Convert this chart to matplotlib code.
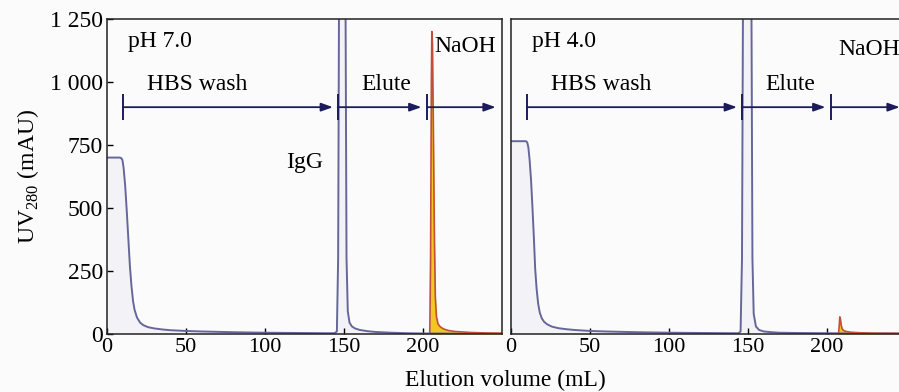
import matplotlib
matplotlib.use("Agg")
import matplotlib.pyplot as plt
from matplotlib.ticker import FuncFormatter

plt.rcParams["font.family"] = ["Liberation Serif", "DejaVu Serif"]
plt.rcParams["mathtext.fontset"] = "custom"
plt.rcParams["mathtext.rm"] = "Liberation Serif"

# pH 7.0 run: UV trace (wash + IgG) and NaOH strip peak
ph7_x = [0, 8, 9, 9.8, 10.5, 11.5, 12.5, 13.5, 14.5, 15.5, 16.5, 17.5, 19, 21, 23, 26, 30, 35, 40,
         50, 60, 80, 100, 120, 140, 144, 145.5, 146.3, 147, 150.8, 151.6, 152.4, 153.5, 155, 157,
         160, 165, 170, 180, 190, 200, 205, 210, 230, 250]
ph7_y = [700, 700, 698, 690, 660, 590, 490, 380, 270, 190, 130, 95, 65, 45, 35, 27, 22, 18, 15,
         12, 10, 7, 5, 4, 3, 3, 10, 300, 1600, 1600, 300, 90, 45, 30, 22,
         16, 11, 8, 5, 3, 2, 2, 2, 1, 1]
ph7_naoh_x = [204.3, 204.8, 205.3, 205.6, 206.0, 206.6, 207.2, 207.8, 208.5, 209.5, 211, 213, 216,
              220, 230, 240, 250]
ph7_naoh_y = [0, 300, 1000, 1200, 1150, 800, 400, 150, 70, 40, 28, 20, 14, 10, 6, 4, 3]

# pH 4.0 run
ph4_x = [0, 9.5, 10.3, 11, 11.8, 12.7, 13.6, 14.5, 15.3, 16.2, 17.2, 18.2, 19.5, 21, 23, 26, 30, 35,
         40, 50, 60, 80, 100, 120, 140, 144, 145.3, 146.2, 147, 152, 152.8, 153.6, 155, 157, 160,
         165, 170, 180, 200, 220, 250]
ph4_y = [765, 765, 760, 740, 690, 610, 500, 380, 260, 180, 120, 85, 62, 48, 38, 29, 23, 19,
         16, 12, 10, 7, 5, 4, 3, 3, 10, 300, 1600, 1600, 300, 80, 30, 16, 10,
         7, 5, 4, 3, 2, 2]
ph4_naoh_x = [207.3, 207.7, 208.1, 208.5, 209, 209.6, 210.5, 212, 215, 220, 230, 250]
ph4_naoh_y = [0, 30, 68, 60, 35, 20, 14, 10, 7, 5, 3, 2]

x_ticks = [0, 50, 100, 150, 200]
y_ticks = [0, 250, 500, 750, 1000, 1250]

# phase bars: (start tick, arrow end) in mL, label, label x
phases = [(10, 143, "HBS wash", 57), (146, 199, "Elute", 177), (202.5, 246, None, None)]

BG = "#fbfbfb"
LINE = "#66669a"
FILL = "#f3f3f7"
ARROW = "#1c1c5a"

fig = plt.figure(figsize=(8.99, 3.92), dpi=100, facecolor=BG)
ax1 = fig.add_axes([0.119, 0.148, 0.4394, 0.8036])
ax2 = fig.add_axes([0.5684, 0.148, 0.4394, 0.8036])

runs = [
    (ax1, ph7_x, ph7_y, ph7_naoh_x, ph7_naoh_y, "pH 7.0"),
    (ax2, ph4_x, ph4_y, ph4_naoh_x, ph4_naoh_y, "pH 4.0"),
]

for ax, x, y, nx, ny, title in runs:
    ax.set_facecolor(BG)
    ax.fill_between(x, y, color=FILL, lw=0)
    ax.plot(x, y, color=LINE, lw=1.4)
    ax.fill_between(nx, ny, color="#f2c722", lw=0)
    ax.plot(nx, ny, color="#c0503a", lw=1.2)
    ax.set_xlim(0, 250)
    ax.set_ylim(0, 1250)
    ax.set_xticks(x_ticks)
    ax.tick_params(direction="in", length=4, width=1, labelsize=16, pad=3)
    for s in ax.spines.values():
        s.set_linewidth(1.1)
        s.set_color("#222222")
    ax.text(13, 1160, title, fontsize=17, va="center")
    for x0, x1, lab, lx in phases:
        ax.vlines(x0, 850, 952, color=ARROW, lw=1.4)
        ax.annotate("", xy=(x1, 900), xytext=(x0, 900),
                    arrowprops=dict(arrowstyle="-|>,head_length=0.7,head_width=0.25",
                                    color=ARROW, lw=1.3, shrinkA=0, shrinkB=0))
        if lab:
            ax.text(lx, 990, lab, fontsize=17, ha="center", va="center")

ax1.text(227, 1140, "NaOH", fontsize=17, ha="center", va="center")
ax2.text(207, 1130, "NaOH", fontsize=17, ha="left", va="center")
ax1.text(125, 680, "IgG", fontsize=17, ha="center", va="center")

ax1.set_yticks(y_ticks)
ax1.yaxis.set_major_formatter(FuncFormatter(lambda v, p: f"{int(v):,}".replace(",", " ")))
ax1.tick_params(axis="y", labelsize=17)
ax2.set_yticks([])
ax1.set_ylabel("UV$_{280}$ (mAU)", fontsize=17, labelpad=6)

fig.text(0.562, 0.03, "Elution volume (mL)", fontsize=17, ha="center", va="center")

fig.savefig("out.png", dpi=100, facecolor=BG)
